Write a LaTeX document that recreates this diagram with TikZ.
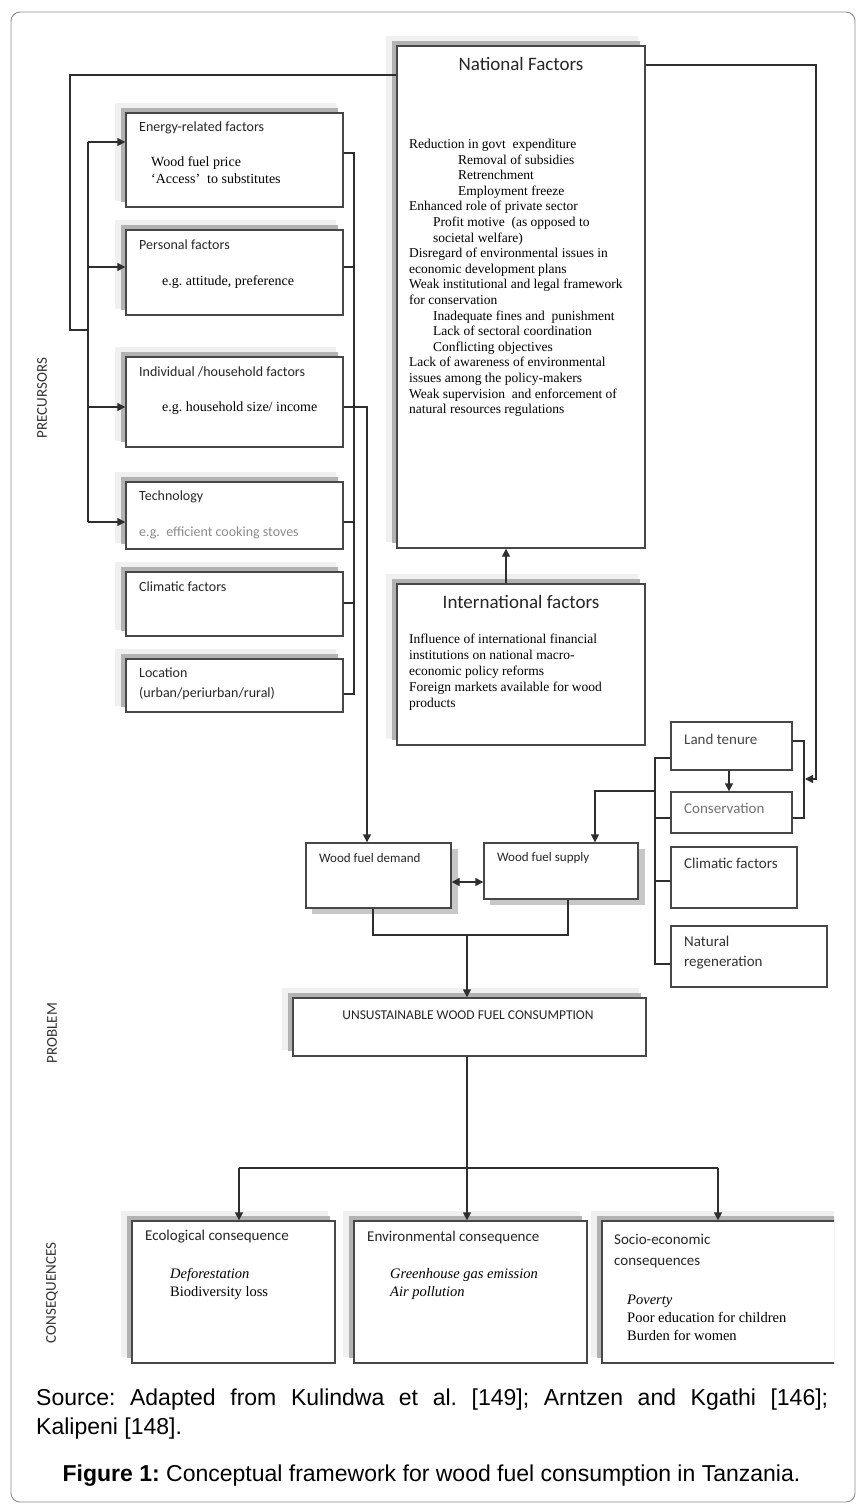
\documentclass[tikz,border=0pt]{standalone}
\usepackage{fontspec}
\setmainfont{Liberation Serif}
\newfontfamily\calfont{Carlito}
\newfontfamily\arialfont{Liberation Sans}
\usetikzlibrary{arrows.meta,calc}
\frenchspacing
\tikzset{
 box/.style={draw=black!72, line width=1.4pt, fill=white, inner sep=0pt, rectangle},
 ln/.style={draw=black!82, line width=1.4pt},
 arr/.style={ln, -{Triangle[length=8pt,width=8pt]}},
 darr/.style={ln, {Triangle[length=8pt,width=8pt]}-{Triangle[length=8pt,width=8pt]}},
 ttl/.style={font={\calfont\fontsize{14}{16}\selectfont}, text=black!85, inner sep=0pt, anchor=west},
 ttlc/.style={font={\calfont\fontsize{15}{17}\selectfont}, text=black!85, inner sep=0pt, anchor=west},
 rttl/.style={font={\calfont\fontsize{15}{17}\selectfont}, text=black!72, inner sep=0pt, anchor=west},
 bigttl/.style={font={\calfont\fontsize{19}{22}\selectfont}, text=black!85, inner sep=0pt},
 ser/.style={font={\fontsize{14}{17}\selectfont}, inner sep=0pt, anchor=north west, align=left},
 serw/.style={font={\fontsize{14}{17}\selectfont}, inner sep=0pt, anchor=west},
 side/.style={font={\calfont\fontsize{15}{17}\selectfont}, text=black!80, inner sep=0pt, rotate=90},
 capt/.style={font={\arialfont\fontsize{23}{28}\selectfont}, inner sep=0pt},
}
% box with top-left shadow: name x1 y1 x2 y2
\newcommand{\TLbox}[5]{%
  \fill[black!6] (#2-11,#3-10) rectangle (#4-7,#5-6);
  \fill[black!30] (#2-5,#3-5) rectangle (#4-5,#5-5);
  \node[box, minimum width={(#4-#2)*1pt}, minimum height={(#5-#3)*1pt}] (#1) at ({(#2+#4)/2},{(#3+#5)/2}) {};}
% box with bottom-right shadow
\newcommand{\BRbox}[5]{%
  \fill[black!22] (#2+6,#3+6) rectangle (#4+7,#5+6);
  \node[box, minimum width={(#4-#2)*1pt}, minimum height={(#5-#3)*1pt}] (#1) at ({(#2+#4)/2},{(#3+#5)/2}) {};}
% plain box
\newcommand{\PLbox}[5]{%
  \node[box, minimum width={(#4-#2)*1pt}, minimum height={(#5-#3)*1pt}] (#1) at ({(#2+#4)/2},{(#3+#5)/2}) {};}
\begin{document}
\begin{tikzpicture}[x=1pt,y=-1pt]
\useasboundingbox (0,0) rectangle (861,1510);
\fill[white] (0,0) rectangle (861,1510);
\draw[black!45, line width=0.9pt, rounded corners=9pt] (11,12) rectangle (855,1502);

% ---------- boxes ----------
\TLbox{nat}{397}{46}{645}{548}
\TLbox{intl}{397}{584}{645}{745}
\TLbox{energy}{126}{113}{343}{207}
\TLbox{personal}{126}{230}{343}{315}
\TLbox{indiv}{126}{357}{343}{447}
\TLbox{tech}{126}{482}{343}{549}
\TLbox{climL}{126}{572}{343}{636}
\TLbox{loc}{126}{659}{343}{712}
\BRbox{demand}{306}{843}{451}{908}
\BRbox{supply}{484}{843}{638}{899}
\PLbox{land}{671}{722}{792}{770}
\PLbox{cons}{671}{792}{792}{833}
\PLbox{climR}{671}{847}{797}{908}
\PLbox{natreg}{671}{926}{827}{987}
\TLbox{unsus}{293}{998}{646}{1056}
\TLbox{eco}{132}{1221}{335}{1363}
\TLbox{env}{354}{1221}{587}{1363}
\begin{scope}
  \clip (0,0) rectangle (834,1510);
  \TLbox{socio}{602}{1221}{880}{1363}
\end{scope}

% ---------- connectors ----------
\coordinate (a1) at (70,75);
\coordinate (busTop) at (88,142);
\coordinate (busMid) at (88,330);
\coordinate (busBot) at (88,522);
\coordinate (b2) at (88,267);
\coordinate (b3) at (88,407);
\draw[ln] (a1 -| nat.west) -- (a1) |- (busMid);
\draw[ln] (busTop) -- (busBot);
\draw[arr] (busTop) -- (busTop -| energy.west);
\draw[arr] (b2) -- (b2 -| personal.west);
\draw[arr] (b3) -- (b3 -| indiv.west);
\draw[arr] (busBot) -- (busBot -| tech.west);

\coordinate (r1) at (354,153);
\coordinate (r2) at (354,267);
\coordinate (r3) at (354,522);
\coordinate (r4) at (354,603);
\coordinate (r5) at (354,694);
\draw[ln] (r1 -| energy.east) -- (r1) -- (r5) -- (r5 -| loc.east);
\draw[ln] (r2 -| personal.east) -- (r2);
\draw[ln] (r3 -| tech.east) -- (r3);
\draw[ln] (r4 -| climL.east) -- (r4);

\coordinate (d1) at (367,407);
\draw[arr] (d1 -| indiv.east) -- (d1) -- (d1 |- demand.north);

\coordinate (ni) at (506,566);
\draw[arr] (ni |- intl.north) -- (ni |- nat.south);

\coordinate (c1) at (816,65);
\coordinate (c2) at (816,779);
\coordinate (lc) at (805,779);
\draw[arr] (c1 -| nat.east) -- (c1) -- (c2) -- (lc);
\coordinate (k1) at (804,741);
\coordinate (k2) at (804,818);
\draw[ln] (k1 -| land.east) -- (k1) -- (k2) -- (k2 -| cons.east);
\coordinate (lt) at (729,780);
\draw[arr] (lt |- land.south) -- (lt |- cons.north);

\coordinate (m1) at (655,758);
\coordinate (m2) at (655,818);
\coordinate (m3) at (655,881);
\coordinate (m4) at (655,964);
\draw[ln] (m1 -| land.west) -- (m1) -- (m4) -- (m4 -| natreg.west);
\draw[ln] (m2) -- (m2 -| cons.west);
\draw[ln] (m3) -- (m3 -| climR.west);
\coordinate (s1) at (655,791);
\coordinate (s2) at (595,791);
\draw[arr] (s1) -- (s2) -- (s2 |- supply.north);

\coordinate (dd) at (460,882);
\draw[darr] (dd -| demand.east) -- (dd -| supply.west);

\coordinate (j0) at (467,935);
\coordinate (j1) at (373,935);
\coordinate (j2) at (568,935);
\draw[ln] (j1 |- demand.south) -- (j1) -- (j2) -- (j2 |- supply.south);
\draw[arr] (j0) -- (j0 |- unsus.north);

\coordinate (h0) at (467,1168);
\coordinate (h1) at (239,1168);
\coordinate (h2) at (718,1168);
\draw[ln] (h0 |- unsus.south) -- (h0);
\draw[ln] (h1) -- (h2);
\draw[arr] (h0) -- (h0 |- env.north);
\draw[arr] (h1) -- (h1 |- eco.north);
\draw[arr] (h2) -- (h2 |- socio.north);

% ---------- texts ----------
\node[bigttl] (t-nat) at (521,64) {National Factors};
\node[ser, font={\fontsize{13.5}{15.6}\selectfont}] (x-nat) at (409,139) {%
Reduction in govt\ \ expenditure\\
\hspace*{49pt}Removal of subsidies\\
\hspace*{49pt}Retrenchment\\
\hspace*{49pt}Employment freeze\\
Enhanced role of private sector\\
\hspace*{24pt}Profit motive\ \ (as opposed to\\
\hspace*{24pt}societal welfare)\\
Disregard of environmental issues in\\
economic development plans\\
Weak institutional and legal framework\\
for conservation\\
\hspace*{24pt}Inadequate fines and\ \ punishment\\
\hspace*{24pt}Lack of sectoral coordination\\
\hspace*{24pt}Conflicting objectives\\
Lack of awareness of environmental\\
issues among the policy-makers\\
Weak supervision\ \ and enforcement of\\
natural resources regulations};

\node[bigttl] (t-intl) at (521,602) {International factors};
\node[ser, font={\fontsize{13.5}{16}\selectfont}] (x-intl) at (409,634) {%
Influence of international financial\\
institutions on national macro-\\
economic policy reforms\\
Foreign markets available for wood\\
products};

\node[ttl] (t-energy) at (139,128) {Energy-related factors};
\node[ser] (x-energy) at (151,156.5) {Wood fuel price\\‘Access’\ \ to substitutes};
\node[ttl] (t-personal) at (139,245) {Personal factors};
\node[serw] (x-personal) at (162,282) {e.g. attitude, preference};
\node[ttl] (t-indiv) at (139,372) {Individual /household factors};
\node[serw] (x-indiv) at (162,408) {e.g. household size/ income};
\node[ttl] (t-tech) at (139,497) {Technology};
\node[ttl, text=black!45] (x-tech) at (139,533) {e.g.\ \ efficient cooking stoves};
\node[ttl] (t-climL) at (139,587) {Climatic factors};
\node[ttl] (t-loc) at (139,673) {Location};
\node[ttl] (x-loc) at (139,693) {(urban/periurban/rural)};

\node[rttl] (t-land) at (684,739) {Land tenure};
\node[rttl, text=black!55] (t-cons) at (684,808) {Conservation};
\node[rttl, text=black!80] (t-climR) at (684,863) {Climatic factors};
\node[rttl, text=black!80] (t-natreg1) at (684,941) {Natural};
\node[rttl, text=black!80] (t-natreg2) at (684,963) {regeneration};

\node[ttl, font={\calfont\fontsize{13}{15}\selectfont}] (t-demand) at (319,858) {Wood fuel demand};
\node[ttl, font={\calfont\fontsize{13}{15}\selectfont}] (t-supply) at (497,858) {Wood fuel supply};

\node[font={\calfont\fontsize{13.5}{16}\selectfont}, text=black!85, inner sep=0pt] (t-unsus) at (468,1015) {UNSUSTAINABLE WOOD FUEL CONSUMPTION};

\node[ttlc] (t-eco) at (145,1237) {Ecological consequence};
\node[ser, font={\fontsize{14.5}{18}\selectfont}] (x-eco) at (170,1268.5) {\textit{Deforestation}\\Biodiversity loss};
\node[ttlc] (t-env) at (367,1237) {Environmental consequence};
\node[ser, font={\fontsize{14.5}{18}\selectfont}] (x-env) at (390,1268.5) {\textit{Greenhouse gas emission}\\\textit{Air pollution}};
\node[ttlc] (t-socio1) at (614,1239) {Socio-economic};
\node[ttlc] (t-socio2) at (614,1263) {consequences};
\node[ser, font={\fontsize{14.5}{18}\selectfont}] (x-socio) at (627,1294.5) {\textit{Poverty}\\Poor education for children\\Burden for women};

\node[side] (l-pre) at (42,398) {PRECURSORS};
\node[side] (l-prob) at (52,1033) {PROBLEM};
\node[side] (l-cons) at (52,1293) {CONSEQUENCES};

\node[capt, anchor=base west] (src1) at (36,1405) {\makebox[792pt][s]{Source: Adapted from Kulindwa et al. [149]; Arntzen and Kgathi [146];}};
\node[capt, anchor=base west] (src2) at (36,1434) {Kalipeni [148].};
\node[capt, anchor=base] (figcap) at (431.5,1481) {\textbf{Figure 1:} Conceptual framework for wood fuel consumption in Tanzania.};
\end{tikzpicture}
\end{document}
